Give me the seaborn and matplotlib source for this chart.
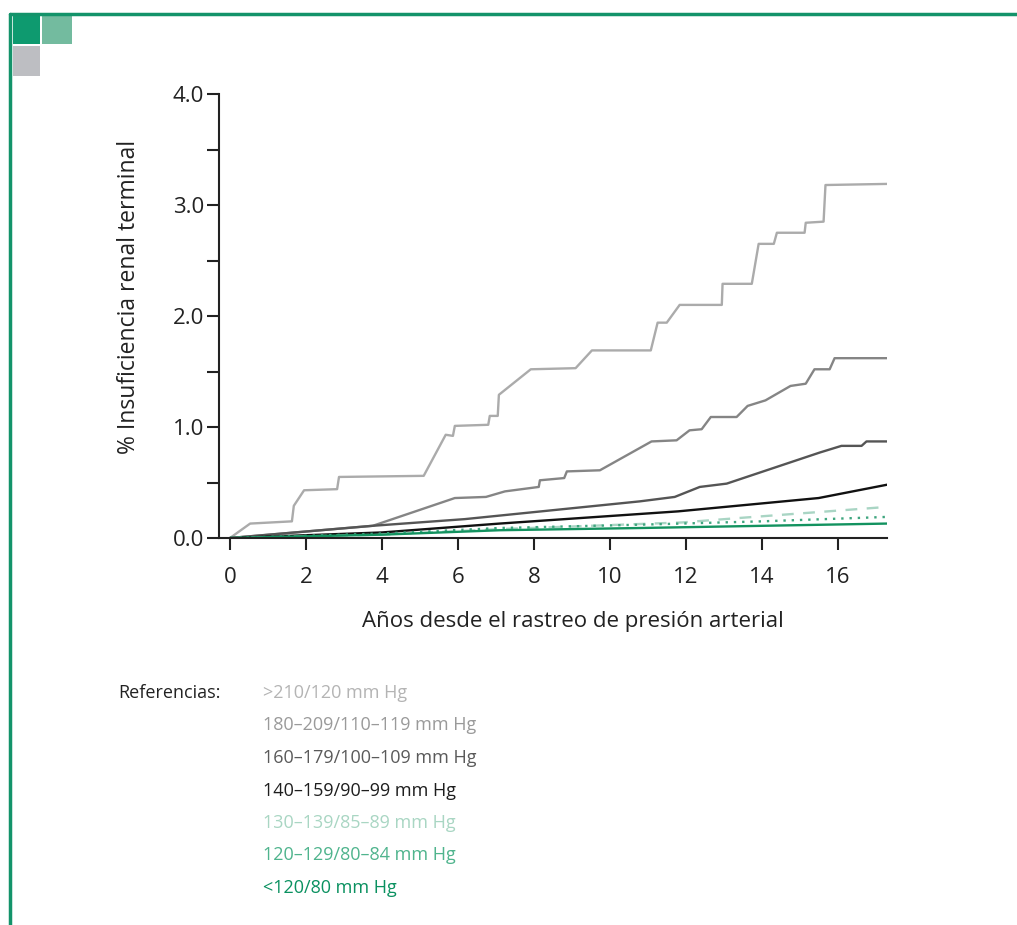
import pandas as pd
import matplotlib.pyplot as plt
import seaborn as sns
from matplotlib.lines import Line2D
from matplotlib.patches import Rectangle

# Data (years, % ESRD)
groups = ['>210/120 mm Hg', '180-209/110-119 mm Hg', '160-179/100-109 mm Hg',
          '140-159/90-99 mm Hg', '130-139/85-89 mm Hg', '120-129/80-84 mm Hg',
          '<120/80 mm Hg']

x_210 = [0, 0.53, 1.63, 1.68, 1.95, 2.82, 2.87, 5.1, 5.68, 5.87, 5.92, 6.8, 6.84,
         7.05, 7.08, 7.92, 9.1, 9.53, 11.08, 11.26, 11.5, 11.84, 12.95, 12.97,
         13.74, 13.92, 14.32, 14.4, 15.13, 15.16, 15.63, 15.68, 17.3]
y_210 = [0, 0.13, 0.15, 0.29, 0.43, 0.44, 0.55, 0.56, 0.93, 0.92, 1.01, 1.02, 1.1,
         1.1, 1.29, 1.52, 1.53, 1.69, 1.69, 1.94, 1.94, 2.1, 2.1, 2.29,
         2.29, 2.65, 2.65, 2.75, 2.75, 2.84, 2.85, 3.18, 3.19]

x_180 = [0, 3.76, 5.92, 6.74, 7.24, 8.13, 8.16, 8.8, 8.87, 9.74, 11.1, 11.76, 12.1,
         12.42, 12.66, 13.34, 13.63, 14.1, 14.76, 15.16, 15.39, 15.79, 15.92, 17.3]
y_180 = [0, 0.11, 0.36, 0.37, 0.42, 0.46, 0.52, 0.54, 0.6, 0.61, 0.87, 0.88, 0.97,
         0.98, 1.09, 1.09, 1.19, 1.24, 1.37, 1.39, 1.52, 1.52, 1.62, 1.62]

x_160 = [0, 3.76, 6.18, 10.79, 11.71, 12.37, 13.08, 15.53, 16.1, 16.63, 16.76, 17.3]
y_160 = [0, 0.11, 0.17, 0.33, 0.37, 0.46, 0.49, 0.77, 0.83, 0.83, 0.87, 0.87]

x_140 = [0, 4, 7.1, 11.8, 15.5, 17.3]
y_140 = [0, 0.05, 0.13, 0.24, 0.36, 0.48]

x_130 = [0, 4, 7.1, 11.9, 13.4, 17.3]
y_130 = [0, 0.03, 0.08, 0.14, 0.18, 0.28]

x_120 = [0, 4, 7.1, 10.8, 14, 17.3]
y_120 = [0, 0.04, 0.09, 0.12, 0.15, 0.19]

x_lt120 = [0, 4, 7.1, 10.8, 17.3]
y_lt120 = [0, 0.03, 0.07, 0.09, 0.13]

series = [(x_210, y_210), (x_180, y_180), (x_160, y_160), (x_140, y_140),
          (x_130, y_130), (x_120, y_120), (x_lt120, y_lt120)]

df = pd.concat([pd.DataFrame({'anio': xs, 'pct': ys, 'grupo': g})
                for g, (xs, ys) in zip(groups, series)], ignore_index=True)

line_colors = ['#ababab', '#858585', '#555555', '#111111', '#a9d5c4', '#3fa67f', '#12925f']
text_colors = ['#b4b4b4', '#9a9a9a', '#5a5a5a', '#1e1e1e', '#a9d6c3', '#4fb48d', '#0a9160']
palette = dict(zip(groups, line_colors))
dashes = {g: '' for g in groups}
dashes['130-139/85-89 mm Hg'] = (5, 4)
dashes['120-129/80-84 mm Hg'] = (1, 2.5)

sns.set_style('ticks')
plt.rcParams['font.family'] = ['Open Sans', 'DejaVu Sans']

fig = plt.figure(figsize=(10.17, 9.25), dpi=100)
ax = fig.add_axes([219 / 1017, 1 - 538 / 925, (887 - 219) / 1017, (538 - 94) / 925])

sns.lineplot(data=df, x='anio', y='pct', hue='grupo', style='grupo',
             palette=palette, dashes=dashes, estimator=None, sort=False,
             linewidth=1.7, legend=False, ax=ax)

ax.set_xlim(-0.29, 17.3)
ax.set_ylim(0, 4.0)
ax.set_xticks(range(0, 17, 2))
ax.set_yticks([i * 0.5 for i in range(9)])
ax.set_yticklabels(['0.0', '', '1.0', '', '2.0', '', '3.0', '', '4.0'])
ax.tick_params(axis='both', length=8.6, width=1.5, color='#222222',
               labelsize=16, labelcolor='#222222')
ax.tick_params(axis='x', pad=12)
ax.tick_params(axis='y', pad=2)
for side in ['top', 'right']:
    ax.spines[side].set_visible(False)
for side in ['left', 'bottom']:
    ax.spines[side].set_linewidth(1.5)
    ax.spines[side].set_color('#222222')

ax.set_xlabel('Años desde el rastreo de presión arterial', fontsize=16,
              color='#222222')
ax.xaxis.set_label_coords(0.53, -0.165)
ax.set_ylabel('% Insuficiencia renal terminal', fontsize=16.5,
              color='#222222')
ax.yaxis.set_label_coords(-0.117, 0.542)

# Legend as coloured text
fig.text(118 / 1017, 1 - 693 / 925, 'Referencias:', fontsize=13,
         color='#222222', va='center', ha='left')
for i, (g, c) in enumerate(zip(groups, text_colors)):
    fig.text(263 / 1017, 1 - (693 + i * 32.5) / 925, g.replace('-', '–'),
             fontsize=13, color=c, va='center', ha='left')

# Page decoration
green = '#13936a'
fig.add_artist(Line2D([10 / 1017, 1], [1 - 14 / 925, 1 - 14 / 925],
                      color=green, linewidth=2.5, transform=fig.transFigure))
fig.add_artist(Line2D([10 / 1017, 10 / 1017], [0, 1 - 14 / 925],
                      color=green, linewidth=2.5, transform=fig.transFigure))
for (x0, y0, x1, y1, c) in [(13, 16, 40, 44, '#0e9a6f'), (42, 16, 72, 44, '#73bb9f'),
                            (13, 46, 40, 76, '#bdbec2')]:
    fig.add_artist(Rectangle((x0 / 1017, 1 - y1 / 925), (x1 - x0) / 1017, (y1 - y0) / 925,
                             facecolor=c, edgecolor='none', transform=fig.transFigure))

fig.savefig('out.png', dpi=100)
